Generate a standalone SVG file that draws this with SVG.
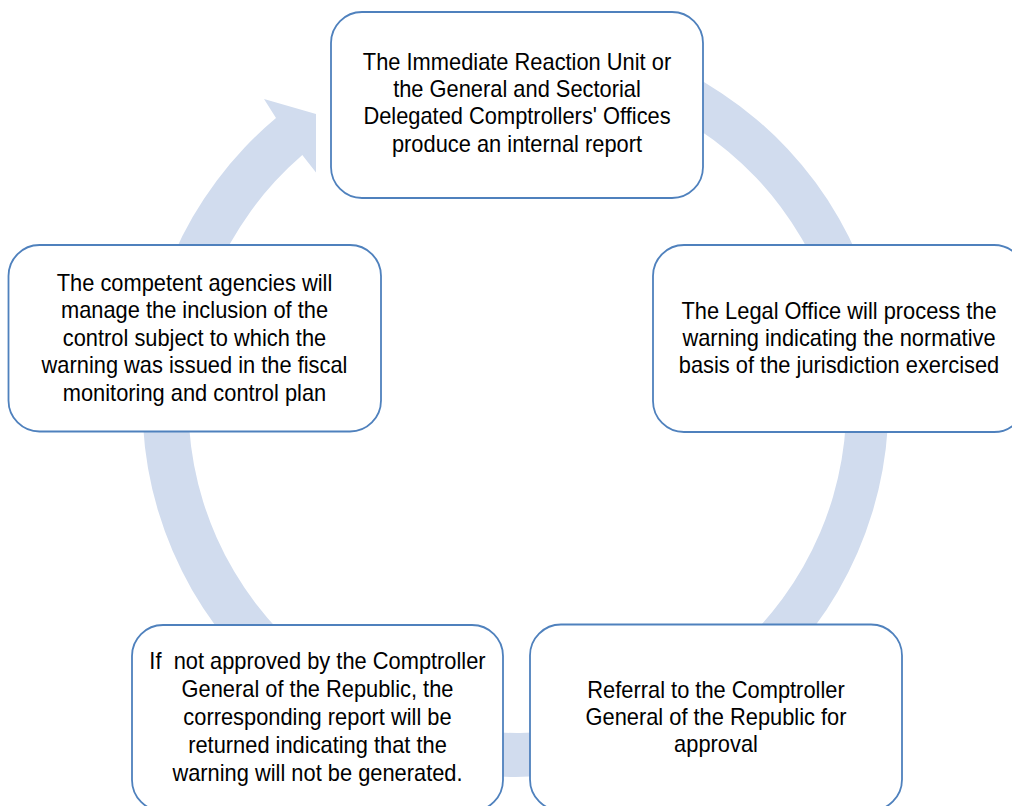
<svg xmlns="http://www.w3.org/2000/svg" width="1012" height="806" viewBox="0 0 1012 806">
  <style>
    .box { fill: #ffffff; stroke: #4f81bd; stroke-width: 1.8; }
    .ring { fill: #d1dcee; stroke: none; }
    .t { font-family: "Liberation Sans", Arial, sans-serif; font-size: 23px; fill: #000000; text-anchor: middle; }
  </style>
  <rect width="1012" height="806" fill="#ffffff"/>

  <!-- circular cycle arrow behind the steps -->
  <g id="connectors">
    <path class="ring" d="M 517 31 A 373 373 0 1 1 276 118 L 264 99 L 316 114 L 316 172.5 L 302.3 155 A 329 329 0 1 0 517 75 Z"/>
  </g>

  <g id="node-report">
    <rect class="box" x="331" y="12" width="372" height="186" rx="31" ry="31"/>
    <g transform="translate(517 0) scale(0.95 1)">
      <text class="t" x="0" y="70">The Immediate Reaction Unit or</text>
      <text class="t" x="0" y="97.3">the General and Sectorial</text>
      <text class="t" x="0" y="124.5">Delegated Comptrollers' Offices</text>
      <text class="t" x="0" y="151.8">produce an internal report</text>
    </g>
  </g>

  <g id="node-legal">
    <rect class="box" x="653" y="245" width="372" height="187" rx="31" ry="31"/>
    <g transform="translate(839 0) scale(0.95 1)">
      <text class="t" x="0" y="319.5">The Legal Office will process the</text>
      <text class="t" x="0" y="346.5">warning indicating the normative</text>
      <text class="t" x="0" y="373.5">basis of the jurisdiction exercised</text>
    </g>
  </g>

  <g id="node-referral">
    <rect class="box" x="530" y="624.5" width="372" height="186" rx="31" ry="31"/>
    <g transform="translate(716 0) scale(0.95 1)">
      <text class="t" x="0" y="697.7">Referral to the Comptroller</text>
      <text class="t" x="0" y="725">General of the Republic for</text>
      <text class="t" x="0" y="752.3">approval</text>
    </g>
  </g>

  <g id="node-returned">
    <rect class="box" x="132" y="625" width="371" height="186" rx="31" ry="31"/>
    <g transform="translate(317.5 0) scale(0.95 1)">
      <text class="t" x="0" y="669.5" xml:space="preserve">If  not approved by the Comptroller</text>
      <text class="t" x="0" y="697.5">General of the Republic, the</text>
      <text class="t" x="0" y="725.5">corresponding report will be</text>
      <text class="t" x="0" y="753.5">returned indicating that the</text>
      <text class="t" x="0" y="781.5">warning will not be generated.</text>
    </g>
  </g>

  <g id="node-plan">
    <rect class="box" x="8.5" y="245" width="372.5" height="186.5" rx="31" ry="31"/>
    <g transform="translate(194.5 0) scale(0.95 1)">
      <text class="t" x="0" y="290.7">The competent agencies will</text>
      <text class="t" x="0" y="318.2">manage the inclusion of the</text>
      <text class="t" x="0" y="345.7">control subject to which the</text>
      <text class="t" x="0" y="373.2">warning was issued in the fiscal</text>
      <text class="t" x="0" y="400.7">monitoring and control plan</text>
    </g>
  </g>
</svg>
